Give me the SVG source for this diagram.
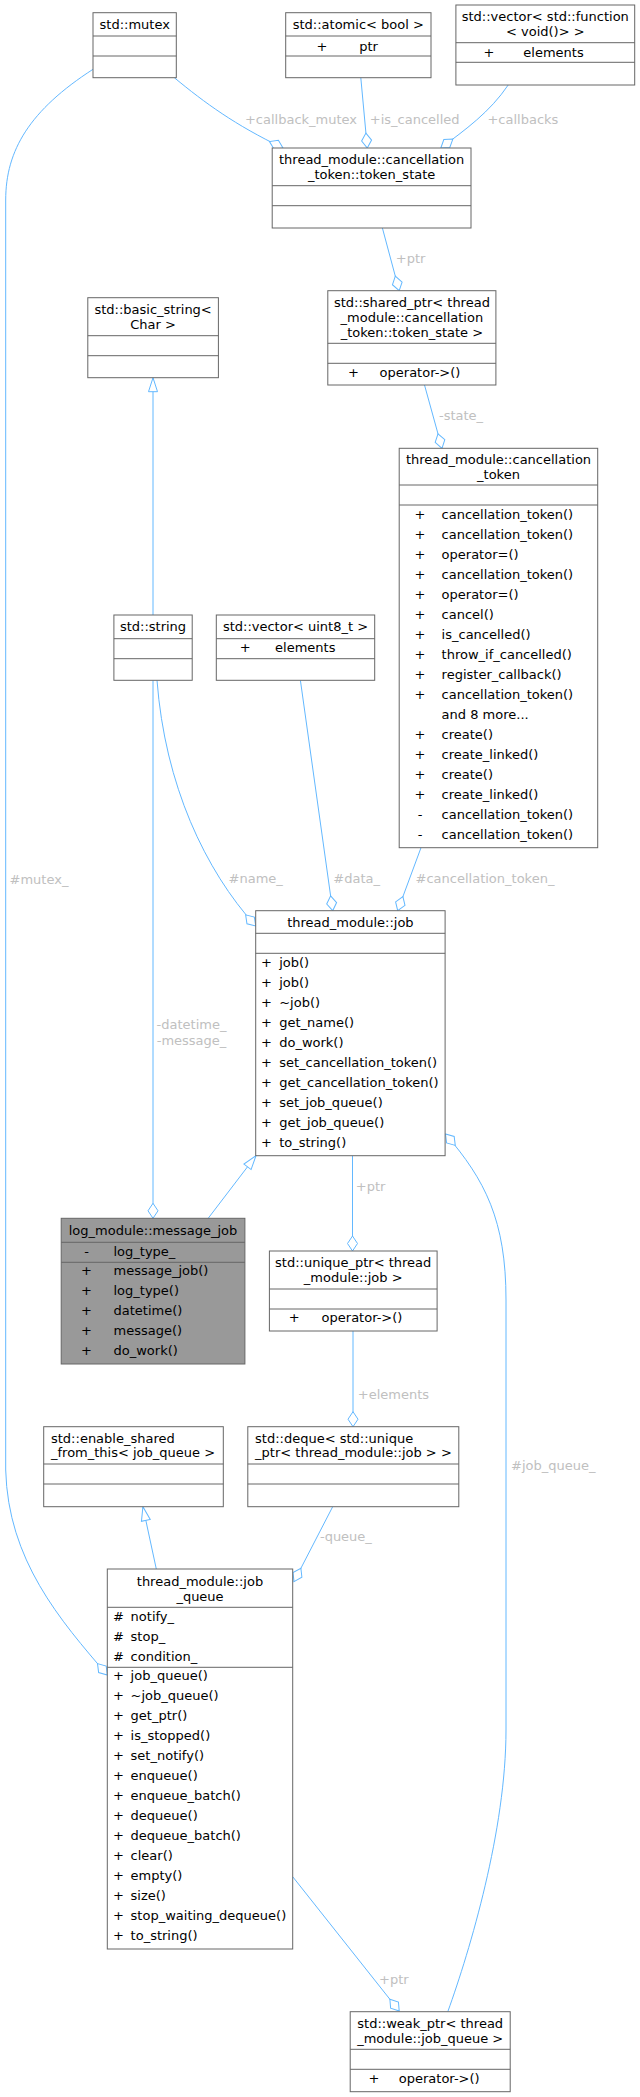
<svg xmlns="http://www.w3.org/2000/svg" width="640" height="2097" viewBox="0 0 640 2097">
<style>
text{font-family:"DejaVu Sans","Liberation Sans",sans-serif;font-size:13px;fill:#000}
.box{fill:#fff;stroke:#666;stroke-width:1}
.hl{fill:#999;stroke:#666;stroke-width:1}
.sep{fill:none;stroke:#666;stroke-width:1}
.c{text-anchor:middle}
.e{fill:none;stroke:#63b8ff;stroke-width:1}
.lbl{fill:#c0c0c0;text-anchor:middle}
</style>
<defs>
<marker id="dia" markerUnits="userSpaceOnUse" markerWidth="20" markerHeight="14" refX="0" refY="0" orient="auto" overflow="visible"><path d="M0,0 L-7.5,-5 L-15,0 L-7.5,5 Z" fill="#fff" stroke="#63b8ff"/></marker>
<marker id="tri" markerUnits="userSpaceOnUse" markerWidth="20" markerHeight="14" refX="0" refY="0" orient="auto" overflow="visible"><path d="M0,0 L-14,-4.5 L-14,4.5 Z" fill="#fff" stroke="#63b8ff"/></marker>
</defs>
<rect x="0" y="0" width="640" height="2097" fill="#fff"/>

<g id="connectors">
<path class="e" d="M174.3,77.7 C205,103 235,125 283,148" marker-end="url(#dia)"/>
<path class="e" d="M360.8,77.7 L367.3,148" marker-end="url(#dia)"/>
<path class="e" d="M508.2,85 C490,112 465,130 440.8,148" marker-end="url(#dia)"/>
<path class="e" d="M382.4,228 L399.2,290.7" marker-end="url(#dia)"/>
<path class="e" d="M424.5,385 L442,448.3" marker-end="url(#dia)"/>
<path class="e" d="M153,615 L153,377.7" marker-end="url(#tri)"/>
<path class="e" d="M157,680.3 C165,785 205,870 255.7,926" marker-end="url(#dia)"/>
<path class="e" d="M300.4,680.3 L332.7,910.7" marker-end="url(#dia)"/>
<path class="e" d="M421,847.7 L397.7,910.7" marker-end="url(#dia)"/>
<path class="e" d="M153,680.3 L153,1218.3" marker-end="url(#dia)"/>
<path class="e" d="M208.2,1218.3 L256,1155.7" marker-end="url(#tri)"/>
<path class="e" d="M352.5,1155.7 L352.5,1251" marker-end="url(#dia)"/>
<path class="e" d="M353,1331 L353,1426.7" marker-end="url(#dia)"/>
<path class="e" d="M156.3,1569 L142.9,1506.7" marker-end="url(#tri)"/>
<path class="e" d="M332.7,1506.7 L294,1581.6" marker-end="url(#dia)"/>
<path class="e" d="M93,69.3 C30,110 5.7,150 5.7,200 L5.7,1470 C8,1560 60,1620 107.3,1675" marker-end="url(#dia)"/>
<path class="e" d="M447.8,2011.7 C470,1950 506,1830 506,1730 L506,1300 C506,1220 485,1180 445.5,1134" marker-end="url(#dia)"/>
<path class="e" d="M292.7,1876.7 L399.2,2011" marker-end="url(#dia)"/>
<text class="lbl" x="301" y="123.5">+callback_mutex</text>
<text class="lbl" x="414.7" y="123.5">+is_cancelled</text>
<text class="lbl" x="522.9" y="123.5">+callbacks</text>
<text class="lbl" x="410.6" y="262.8">+ptr</text>
<text class="lbl" x="461" y="420">-state_</text>
<text class="lbl" x="255.7" y="883">#name_</text>
<text class="lbl" x="356.7" y="883">#data_</text>
<text class="lbl" x="485" y="883">#cancellation_token_</text>
<text class="lbl" x="39" y="883.5">#mutex_</text>
<text class="lbl" x="191.5" y="1029">-datetime_</text>
<text class="lbl" x="191.5" y="1044.5">-message_</text>
<text class="lbl" x="370.6" y="1191">+ptr</text>
<text class="lbl" x="393.5" y="1399">+elements</text>
<text class="lbl" x="553.3" y="1470">#job_queue_</text>
<text class="lbl" x="345.9" y="1541">-queue_</text>
<text class="lbl" x="393.9" y="1984">+ptr</text>
</g>

<g id="n_mutex">
<rect class="box" x="93" y="12.7" width="83.3" height="65"/>
<path class="sep" d="M93,36 H176.3 M93,56 H176.3"/>
<text class="c" x="134.7" y="29">std::mutex</text>
</g>

<g id="n_atomic">
<rect class="box" x="285.7" y="12.7" width="145.3" height="65"/>
<path class="sep" d="M285.7,36 H431 M285.7,56 H431"/>
<text class="c" x="358.3" y="29">std::atomic&lt; bool &gt;</text>
<text class="c" x="322" y="50.5">+</text>
<text x="359.2" y="50.5">ptr</text>
</g>

<g id="n_vecfn">
<rect class="box" x="455.9" y="5" width="178.8" height="80"/>
<path class="sep" d="M455.9,42.7 H634.7 M455.9,62.3 H634.7"/>
<text class="c" x="545.3" y="21.2">std::vector&lt; std::function</text>
<text class="c" x="545.3" y="36.2">&lt; void()&gt; &gt;</text>
<text class="c" x="489" y="56.5">+</text>
<text x="523.3" y="56.5">elements</text>
</g>

<g id="n_tokstate">
<rect class="box" x="272.2" y="148" width="198.8" height="80"/>
<path class="sep" d="M272.2,185.7 H471 M272.2,205.7 H471"/>
<text class="c" x="371.6" y="164.3">thread_module::cancellation</text>
<text class="c" x="371.6" y="179.3">_token::token_state</text>
</g>

<g id="n_shared">
<rect class="box" x="327.8" y="290.7" width="168.1" height="94.3"/>
<path class="sep" d="M327.8,343.3 H495.9 M327.8,363.3 H495.9"/>
<text class="c" x="411.9" y="306.8">std::shared_ptr&lt; thread</text>
<text class="c" x="411.9" y="321.8">_module::cancellation</text>
<text class="c" x="411.9" y="336.8">_token::token_state &gt;</text>
<text class="c" x="353.5" y="377.2">+</text>
<text x="379.6" y="377.2">operator-&gt;()</text>
</g>

<g id="n_basic">
<rect class="box" x="87.8" y="297.7" width="130.6" height="80"/>
<path class="sep" d="M87.8,335.7 H218.4 M87.8,355.7 H218.4"/>
<text class="c" x="153.1" y="314.3">std::basic_string&lt;</text>
<text class="c" x="153.1" y="329.3">Char &gt;</text>
</g>

<g id="n_ctoken">
<rect class="box" x="399.2" y="448.3" width="198.5" height="399.4"/>
<path class="sep" d="M399.2,485 H597.7 M399.2,505 H597.7"/>
<text class="c" x="498.5" y="463.5">thread_module::cancellation</text>
<text class="c" x="498.5" y="478.5">_token</text>
<g class="c">
<text x="420" y="518.8">+</text><text x="420" y="538.8">+</text><text x="420" y="558.8">+</text><text x="420" y="578.8">+</text><text x="420" y="598.8">+</text><text x="420" y="618.8">+</text><text x="420" y="638.8">+</text><text x="420" y="658.8">+</text><text x="420" y="678.8">+</text><text x="420" y="698.8">+</text><text x="420" y="738.8">+</text><text x="420" y="758.8">+</text><text x="420" y="778.8">+</text><text x="420" y="798.8">+</text><text x="420" y="818.8">-</text><text x="420" y="838.8">-</text>
</g>
<text x="441.6" y="518.8">cancellation_token()</text>
<text x="441.6" y="538.8">cancellation_token()</text>
<text x="441.6" y="558.8">operator=()</text>
<text x="441.6" y="578.8">cancellation_token()</text>
<text x="441.6" y="598.8">operator=()</text>
<text x="441.6" y="618.8">cancel()</text>
<text x="441.6" y="638.8">is_cancelled()</text>
<text x="441.6" y="658.8">throw_if_cancelled()</text>
<text x="441.6" y="678.8">register_callback()</text>
<text x="441.6" y="698.8">cancellation_token()</text>
<text x="441.6" y="718.8">and 8 more...</text>
<text x="441.6" y="738.8">create()</text>
<text x="441.6" y="758.8">create_linked()</text>
<text x="441.6" y="778.8">create()</text>
<text x="441.6" y="798.8">create_linked()</text>
<text x="441.6" y="818.8">cancellation_token()</text>
<text x="441.6" y="838.8">cancellation_token()</text>
</g>

<g id="n_string">
<rect class="box" x="113.9" y="615" width="78.3" height="65.3"/>
<path class="sep" d="M113.9,638.7 H192.2 M113.9,658.7 H192.2"/>
<text class="c" x="153" y="631.3">std::string</text>
</g>

<g id="n_vecu8">
<rect class="box" x="216.3" y="615" width="158.4" height="65.3"/>
<path class="sep" d="M216.3,638.7 H374.7 M216.3,658.7 H374.7"/>
<text class="c" x="295.5" y="631.3">std::vector&lt; uint8_t &gt;</text>
<text class="c" x="245.1" y="652.3">+</text>
<text x="275.1" y="652.3">elements</text>
</g>

<g id="n_job">
<rect class="box" x="255.7" y="910.7" width="189.4" height="245"/>
<path class="sep" d="M255.7,933.3 H445.1 M255.7,953.3 H445.1"/>
<text class="c" x="350.4" y="926.8">thread_module::job</text>
<g class="c">
<text x="266.4" y="966.8">+</text><text x="266.4" y="986.8">+</text><text x="266.4" y="1006.8">+</text><text x="266.4" y="1026.8">+</text><text x="266.4" y="1046.8">+</text><text x="266.4" y="1066.8">+</text><text x="266.4" y="1086.8">+</text><text x="266.4" y="1106.8">+</text><text x="266.4" y="1126.8">+</text><text x="266.4" y="1146.8">+</text>
</g>
<text x="279.2" y="966.8">job()</text>
<text x="279.2" y="986.8">job()</text>
<text x="279.2" y="1006.8">~job()</text>
<text x="279.2" y="1026.8">get_name()</text>
<text x="279.2" y="1046.8">do_work()</text>
<text x="279.2" y="1066.8">set_cancellation_token()</text>
<text x="279.2" y="1086.8">get_cancellation_token()</text>
<text x="279.2" y="1106.8">set_job_queue()</text>
<text x="279.2" y="1126.8">get_job_queue()</text>
<text x="279.2" y="1146.8">to_string()</text>
</g>

<g id="n_msgjob">
<rect class="hl" x="61.2" y="1218.3" width="183.7" height="145.7"/>
<path class="sep" d="M61.2,1242.3 H244.9 M61.2,1262.3 H244.9"/>
<text class="c" x="153" y="1234.5">log_module::message_job</text>
<g class="c">
<text x="86.5" y="1255.8">-</text><text x="86.5" y="1275.2">+</text><text x="86.5" y="1295.2">+</text><text x="86.5" y="1315.2">+</text><text x="86.5" y="1335.2">+</text><text x="86.5" y="1355.2">+</text>
</g>
<text x="113.5" y="1255.8">log_type_</text>
<text x="113.5" y="1275.2">message_job()</text>
<text x="113.5" y="1295.2">log_type()</text>
<text x="113.5" y="1315.2">datetime()</text>
<text x="113.5" y="1335.2">message()</text>
<text x="113.5" y="1355.2">do_work()</text>
</g>

<g id="n_uptr">
<rect class="box" x="269.4" y="1251" width="167.7" height="80"/>
<path class="sep" d="M269.4,1289 H437.1 M269.4,1309 H437.1"/>
<text class="c" x="353.2" y="1266.8">std::unique_ptr&lt; thread</text>
<text class="c" x="353.2" y="1281.8">_module::job &gt;</text>
<text class="c" x="294.3" y="1322.2">+</text>
<text x="321.6" y="1322.2">operator-&gt;()</text>
</g>

<g id="n_esft">
<rect class="box" x="43.7" y="1426.7" width="179.6" height="80"/>
<path class="sep" d="M43.7,1464 H223.3 M43.7,1484 H223.3"/>
<text x="51" y="1442.8">std::enable_shared</text>
<text x="51" y="1456.8">_from_this&lt; job_queue &gt;</text>
</g>

<g id="n_deque">
<rect class="box" x="247.8" y="1426.7" width="211" height="80"/>
<path class="sep" d="M247.8,1464 H458.8 M247.8,1484 H458.8"/>
<text x="255.1" y="1442.8">std::deque&lt; std::unique</text>
<text x="255.1" y="1456.8">_ptr&lt; thread_module::job &gt; &gt;</text>
</g>

<g id="n_jq">
<rect class="box" x="107.3" y="1569" width="185.4" height="380"/>
<path class="sep" d="M107.3,1607.3 H292.7 M107.3,1667.3 H292.7"/>
<text class="c" x="200" y="1585.5">thread_module::job</text>
<text class="c" x="200" y="1600.5">_queue</text>
<g class="c">
<text x="118.4" y="1621.2">#</text><text x="118.4" y="1641.2">#</text><text x="118.4" y="1661.2">#</text>
<text x="118.4" y="1680.2">+</text><text x="118.4" y="1700.2">+</text><text x="118.4" y="1720.2">+</text><text x="118.4" y="1740.2">+</text><text x="118.4" y="1760.2">+</text><text x="118.4" y="1780.2">+</text><text x="118.4" y="1800.2">+</text><text x="118.4" y="1820.2">+</text><text x="118.4" y="1840.2">+</text><text x="118.4" y="1860.2">+</text><text x="118.4" y="1880.2">+</text><text x="118.4" y="1900.2">+</text><text x="118.4" y="1920.2">+</text><text x="118.4" y="1940.2">+</text>
</g>
<text x="130.6" y="1621.2">notify_</text>
<text x="130.6" y="1641.2">stop_</text>
<text x="130.6" y="1661.2">condition_</text>
<text x="130.6" y="1680.2">job_queue()</text>
<text x="130.6" y="1700.2">~job_queue()</text>
<text x="130.6" y="1720.2">get_ptr()</text>
<text x="130.6" y="1740.2">is_stopped()</text>
<text x="130.6" y="1760.2">set_notify()</text>
<text x="130.6" y="1780.2">enqueue()</text>
<text x="130.6" y="1800.2">enqueue_batch()</text>
<text x="130.6" y="1820.2">dequeue()</text>
<text x="130.6" y="1840.2">dequeue_batch()</text>
<text x="130.6" y="1860.2">clear()</text>
<text x="130.6" y="1880.2">empty()</text>
<text x="130.6" y="1900.2">size()</text>
<text x="130.6" y="1920.2">stop_waiting_dequeue()</text>
<text x="130.6" y="1940.2">to_string()</text>
</g>

<g id="n_wptr">
<rect class="box" x="350.2" y="2011.7" width="160" height="80"/>
<path class="sep" d="M350.2,2049.3 H510.2 M350.2,2069.3 H510.2"/>
<text class="c" x="430.2" y="2027.8">std::weak_ptr&lt; thread</text>
<text class="c" x="430.2" y="2042.8">_module::job_queue &gt;</text>
<text class="c" x="373.9" y="2082.8">+</text>
<text x="398.8" y="2082.8">operator-&gt;()</text>
</g>
</svg>
